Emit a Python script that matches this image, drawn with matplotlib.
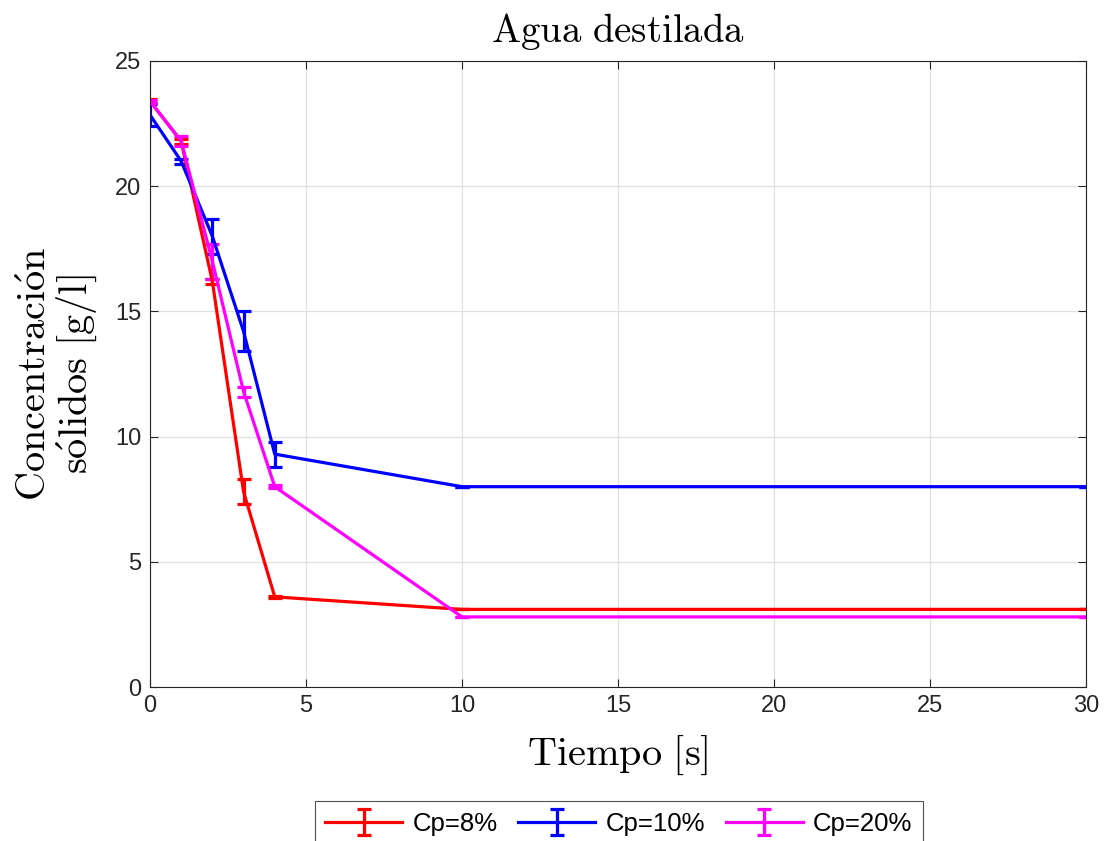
import matplotlib.pyplot as plt
import numpy as np

# tiempo [s]
tiempo = [0, 1, 2, 3, 4, 10, 30]

# concentracion solidos [g/l] y desviaciones
cp8 = [23.4, 21.8, 16.2, 7.8, 3.6, 3.1, 3.1]
cp8_err = [0.08, 0.1, 0.1, 0.5, 0.05, 0.0, 0.0]

cp10 = [22.85, 21.0, 18.0, 14.2, 9.3, 8.0, 8.0]
cp10_err = [0.45, 0.1, 0.7, 0.8, 0.5, 0.0, 0.0]

cp20 = [23.4, 21.8, 17.0, 11.8, 8.0, 2.8, 2.8]
cp20_err = [0.06, 0.2, 0.7, 0.2, 0.05, 0.0, 0.0]

labels = ['Cp=8%', 'Cp=10%', 'Cp=20%']
colors = ['#ff0000', '#0000ff', '#ff00ff']

plt.rcParams['font.family'] = ['Liberation Sans', 'DejaVu Sans']
plt.rcParams['mathtext.fontset'] = 'cm'

fig = plt.figure(figsize=(11.05, 8.41), dpi=100)
ax = fig.add_axes([0.1357, 0.1831, 0.8471, 0.7444])

series = [(cp8, cp8_err), (cp10, cp10_err), (cp20, cp20_err)]
for (vals, errs), lab, col in zip(series, labels, colors):
    ax.errorbar(tiempo, vals, yerr=errs, color=col, lw=2.3, elinewidth=2.3,
                capsize=5, capthick=2.3, label=lab)

ax.set_xlim(0, 30)
ax.set_ylim(0, 25)
ax.set_xticks([0, 5, 10, 15, 20, 25, 30])
ax.set_yticks([0, 5, 10, 15, 20, 25])
ax.grid(True, color='#e0e0e0', lw=0.9)
ax.set_axisbelow(True)
ax.tick_params(direction='in', top=True, right=True, labelsize=17,
               length=6, width=0.8, colors='#262626', pad=6)
for s in ax.spines.values():
    s.set_color('#262626')
    s.set_linewidth(0.8)

ax.set_title(r'$\mathrm{Agua\ destilada}$', fontsize=28, pad=14)
ax.set_xlabel(r'$\mathrm{Tiempo\ [s]}$', fontsize=29, labelpad=12)
ax.set_ylabel(r'$\mathrm{Concentraci\acute{o}n}$' + '\n' + r'$\mathrm{s\acute{o}lidos\ [g/l]}$',
              fontsize=29, linespacing=1.0, labelpad=12)

leg = fig.legend(loc='upper center', bbox_to_anchor=(0.56, 0.047), ncol=3,
                 fontsize=18.5, frameon=True, fancybox=False, edgecolor='#262626',
                 handlelength=3, columnspacing=0.8, handletextpad=0.4,
                 borderaxespad=0)
leg.get_frame().set_linewidth(0.8)

fig.savefig('out.png', dpi=100)
